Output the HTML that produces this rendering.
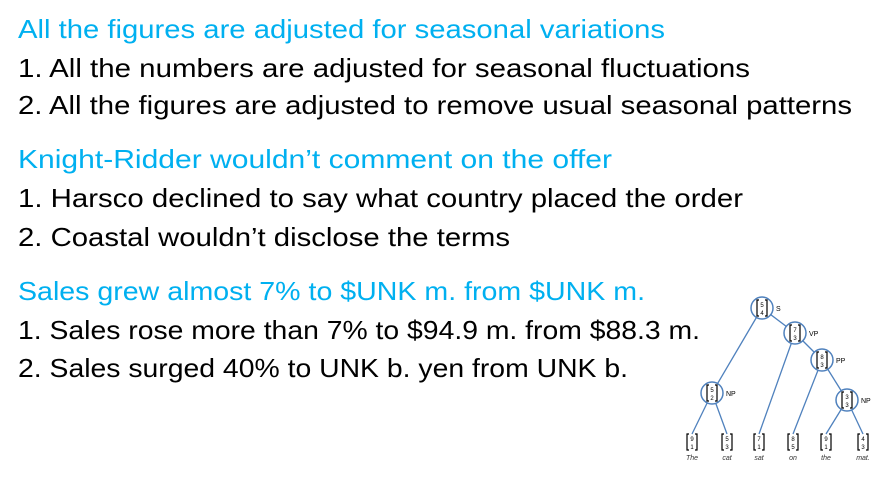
<!DOCTYPE html>
<html><head><meta charset="utf-8"><style>
html,body{margin:0;padding:0;background:#fff;}
svg{display:block;}
text{font-family:"Liberation Sans",sans-serif;}
</style></head><body>
<svg width="893" height="488" viewBox="0 0 893 488">
<g font-size="26">
<text x="18" y="38" fill="#00b0f0" textLength="647" lengthAdjust="spacingAndGlyphs">All the figures are adjusted for seasonal variations</text>
<text x="18" y="77" fill="#000" textLength="732" lengthAdjust="spacingAndGlyphs">1. All the numbers are adjusted for seasonal fluctuations</text>
<text x="18" y="114" fill="#000" textLength="834" lengthAdjust="spacingAndGlyphs">2. All the figures are adjusted to remove usual seasonal patterns</text>
<text x="18" y="168" fill="#00b0f0" textLength="594" lengthAdjust="spacingAndGlyphs">Knight-Ridder wouldn’t comment on the offer</text>
<text x="18" y="207" fill="#000" textLength="725" lengthAdjust="spacingAndGlyphs">1. Harsco declined to say what country placed the order</text>
<text x="18" y="246" fill="#000" textLength="492" lengthAdjust="spacingAndGlyphs">2. Coastal wouldn’t disclose the terms</text>
<text x="18" y="300" fill="#00b0f0" textLength="627" lengthAdjust="spacingAndGlyphs">Sales grew almost 7% to $UNK m. from $UNK m.</text>
<text x="18" y="339" fill="#000" textLength="682" lengthAdjust="spacingAndGlyphs">1. Sales rose more than 7% to $94.9 m. from $88.3 m.</text>
<text x="18" y="377" fill="#000" textLength="610" lengthAdjust="spacingAndGlyphs">2. Sales surged 40% to UNK b. yen from UNK b.</text>
</g>
<g id="tree"></g>
</svg>
<script>
const nodeLabels=["S","VP","PP","NP","NP"];
const nodeVals=[["5","4"],["7","3"],["8","3"],["5","2"],["3","3"]];
const nodePos=[[762,308],[795,333],[822,360],[712,393],[847,400]];
const leafWords=["The","cat","sat","on","the","mat."];
const leafVals=[["9","1"],["5","3"],["7","1"],["8","5"],["9","1"],["4","3"]];
const leafX=[692,727,759,793,826,863];
const leafY=442;
const edges=[["n",0,"n",3],["n",0,"n",1],["n",1,"l",2],["n",1,"n",2],["n",2,"l",3],["n",2,"n",4],["n",3,"l",0],["n",3,"l",1],["n",4,"l",4],["n",4,"l",5]];
const NS="http://www.w3.org/2000/svg";
const g=document.getElementById('tree');
function mk(t,a){const e=document.createElementNS(NS,t);for(const k in a)e.setAttribute(k,a[k]);g.appendChild(e);return e;}
function pt(k,i){return k==="n"?nodePos[i]:[leafX[i],leafY-8];}
edges.forEach(e=>{const a=pt(e[0],e[1]),b=pt(e[2],e[3]);
const ln=mk('line',{x1:a[0],y1:a[1],x2:b[0],y2:b[1],stroke:'#4f81bd','stroke-width':1.3});

});
function vec(x,y,v){
mk('path',{d:`M${x-3} ${y-8}h-2v16h2M${x+3} ${y-8}h2v16h-2`,stroke:'#000',fill:'none','stroke-width':1.2});
mk('text',{x:x,y:y-1,'font-size':6,'text-anchor':'middle'}).textContent=v[0];
mk('text',{x:x,y:y+7,'font-size':6,'text-anchor':'middle'}).textContent=v[1];}
nodePos.forEach((p,i)=>{
const c=mk('circle',{cx:p[0],cy:p[1],r:11,fill:'#fff',stroke:'#4f81bd','stroke-width':1.5});


vec(p[0],p[1],nodeVals[i]);
const t=mk('text',{x:p[0]+14,y:p[1]+3,'font-size':7});t.textContent=nodeLabels[i];

});
leafX.forEach((x,i)=>{vec(x,leafY,leafVals[i]);
const t=mk('text',{x:x,y:leafY+18,'font-size':7,'font-style':'italic','text-anchor':'middle',fill:'#333'});t.textContent=leafWords[i];

});
</script>
</body></html>
